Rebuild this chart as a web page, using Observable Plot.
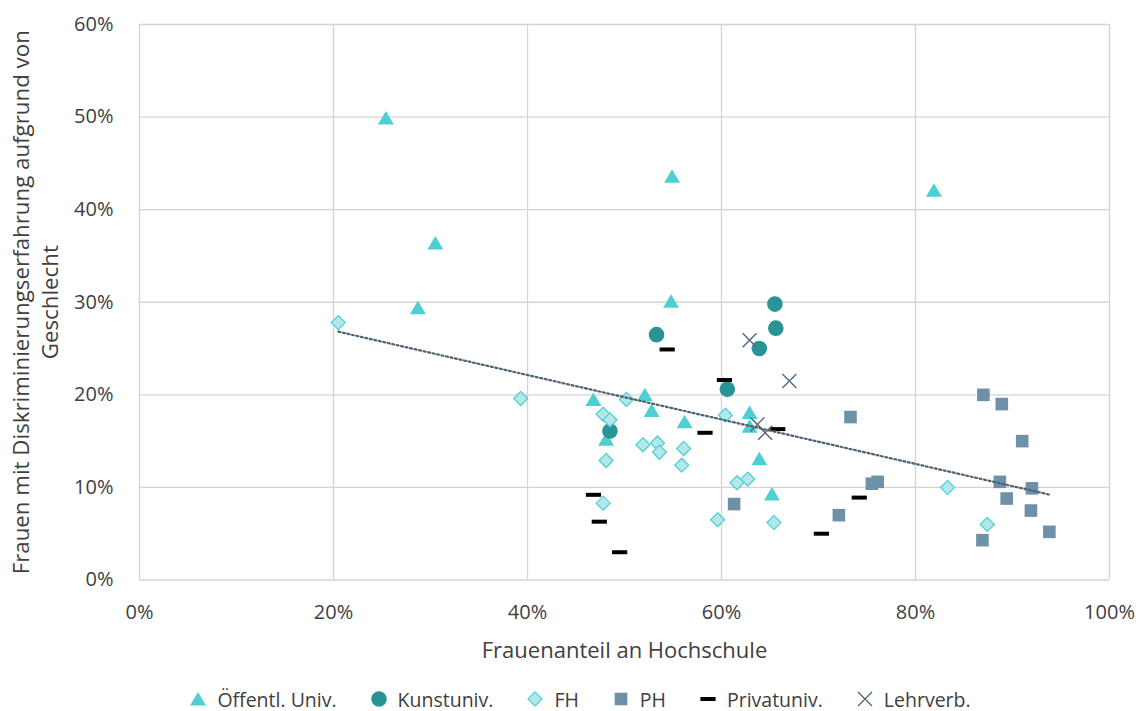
<!DOCTYPE html>
<html>
<head>
<meta charset="utf-8">
<script src="https://cdn.jsdelivr.net/npm/d3@7"></script>
<script src="https://cdn.jsdelivr.net/npm/@observablehq/plot@0.6"></script>
<style>
  html, body { margin: 0; padding: 0; background: #ffffff; }
  #wrap { width: 1146px; height: 711px; position: relative; font-family: "Open Sans", sans-serif; }
  #legend { display: flex; justify-content: center; align-items: center; height: 30px; margin-top: 9px;
            font-size: 19.5px; color: #404040; font-family: "Open Sans", sans-serif; padding-left: 14px; }
  .item { display: flex; align-items: center; margin: 0 16.5px; }
  .item svg { margin-right: 10px; overflow: visible; }
</style>
</head>
<body>
<div id="wrap"><div id="chart"></div><div id="legend"></div></div>
<script>
// ---- Data (percent values) ----
const seriesNames = ["Öffentl. Univ.", "Kunstuniv.", "FH", "PH", "Privatuniv.", "Lehrverb."];

const oeffX = [25.4, 30.5, 28.7, 54.9, 54.8, 81.9, 46.8, 48.1, 52.1, 52.8, 56.2, 62.9, 62.9, 63.9, 65.2];
const oeffY = [49.9, 36.4, 29.4, 43.6, 30.1, 42.1, 19.5, 15.2, 20.0, 18.3, 17.1, 18.1, 16.6, 13.1, 9.3];

const kunstX = [53.3, 65.5, 65.6, 63.9, 60.6, 48.5];
const kunstY = [26.5, 29.8, 27.2, 25.0, 20.6, 16.1];

const fhX = [20.5, 39.3, 50.2, 47.8, 48.5, 51.9, 53.4, 53.6, 56.1, 55.9, 48.1, 47.8, 60.4, 61.6, 62.7, 59.6, 65.4, 83.3, 87.4];
const fhY = [27.8, 19.6, 19.5, 17.9, 17.3, 14.6, 14.8, 13.8, 14.2, 12.4, 12.9, 8.3, 17.8, 10.5, 10.9, 6.5, 6.2, 10.0, 6.0];

const phX = [61.3, 72.1, 73.3, 75.5, 76.1, 86.9, 87.0, 88.7, 88.9, 89.4, 91.0, 92.0, 91.9, 93.8];
const phY = [8.2, 7.0, 17.6, 10.4, 10.6, 4.3, 20.0, 10.6, 19.0, 8.8, 15.0, 9.9, 7.5, 5.2];

const privX = [54.4, 60.3, 58.3, 65.8, 46.8, 47.4, 49.5, 70.3, 74.2];
const privY = [24.9, 21.6, 15.9, 16.3, 9.2, 6.3, 3.0, 5.0, 8.9];

const lehrX = [62.9, 67.0, 63.7, 64.5];
const lehrY = [25.9, 21.5, 16.8, 15.9];

const xTicks = [0, 20, 40, 60, 80, 100];
const yTicks = [0, 10, 20, 30, 40, 50, 60];
const xTitle = "Frauenanteil an Hochschule";
const yTitle = "Frauen mit Diskriminierungserfahrung aufgrund von\nGeschlecht";

// ---- Marker shapes ----
const symTri = {draw(c) { c.moveTo(0, -7); c.lineTo(8, 6.5); c.lineTo(-8, 6.5); c.closePath(); }};
const symCircle = {draw(c) { c.moveTo(7.8, 0); c.arc(0, 0, 7.8, 0, 2 * Math.PI); }};
const symDiamond = {draw(c) { c.moveTo(0, -7); c.lineTo(7, 0); c.lineTo(0, 7); c.lineTo(-7, 0); c.closePath(); }};
const symSquare = {draw(c) { c.rect(-6.3, -6.3, 12.6, 12.6); }};
const symDash = {draw(c) { c.rect(-7.6, -2, 15.2, 4); }};
const symX = {draw(c) { c.moveTo(-7, -7); c.lineTo(7, 7); c.moveTo(7, -7); c.lineTo(-7, 7); }};

const series = [
  {name: seriesNames[0], xs: oeffX, ys: oeffY, symbol: symTri, fill: "#4ECFD3", stroke: "none", sw: 0},
  {name: seriesNames[1], xs: kunstX, ys: kunstY, symbol: symCircle, fill: "#299496", stroke: "none", sw: 0},
  {name: seriesNames[2], xs: fhX, ys: fhY, symbol: symDiamond, fill: "#B3E8EA", stroke: "#55D0D5", sw: 1.3},
  {name: seriesNames[3], xs: phX, ys: phY, symbol: symSquare, fill: "#6E91A8", stroke: "none", sw: 0},
  {name: seriesNames[4], xs: privX, ys: privY, symbol: symDash, fill: "#000000", stroke: "none", sw: 0},
  {name: seriesNames[5], xs: lehrX, ys: lehrY, symbol: symX, fill: "none", stroke: "#52687A", sw: 1.4}
];

const rows = series.flatMap(s => s.xs.map((x, i) => ({group: s.name, x, y: s.ys[i]})));

const dotMarks = series.map(s =>
  Plot.dot(rows.filter(r => r.group === s.name), {
    x: "x", y: "y", symbol: s.symbol, r: 8,
    fill: s.fill, stroke: s.stroke, strokeWidth: s.sw
  })
);

const chart = Plot.plot({
  width: 1146,
  height: 675,
  marginLeft: 139,
  marginRight: 37,
  marginTop: 24,
  marginBottom: 95.5,
  style: {fontFamily: "Open Sans, sans-serif", fontSize: "20px", color: "#404040", background: "#ffffff", overflow: "visible"},
  x: {domain: [0, 100]},
  y: {domain: [0, 60]},
  marks: [
    Plot.gridX(xTicks, {stroke: "#d4d4d4", strokeOpacity: 1, strokeWidth: 1.3}),
    Plot.gridY(yTicks, {stroke: "#d4d4d4", strokeOpacity: 1, strokeWidth: 1.3}),
    Plot.axisX({ticks: xTicks, tickSize: 0, tickPadding: 25, tickFormat: d => d + "%", label: null, fill: "#404040", fontSize: 20}),
    Plot.axisY({ticks: yTicks, tickSize: 0, tickPadding: 26, tickFormat: d => d + "%", label: null, fill: "#404040", fontSize: 20}),
    ...dotMarks,
    Plot.linearRegressionY(rows, {x: "x", y: "y", ci: 0, stroke: "#4F6272", strokeWidth: 2.2, strokeDasharray: "2,2.6"}),
    Plot.text([xTitle], {frameAnchor: "bottom", lineAnchor: "middle", dy: 70.5, text: d => d, fontSize: 22, fill: "#404040"}),
    Plot.text([yTitle], {frameAnchor: "left", textAnchor: "middle", lineAnchor: "middle", rotate: -90, dx: -105, lineHeight: 1.3, text: d => d, fontSize: 22.3, fill: "#404040"})
  ]
});
document.getElementById("chart").appendChild(chart);

// ---- Legend ----
const legend = d3.select("#legend");
series.forEach(s => {
  const item = legend.append("div").attr("class", "item");
  const svg = item.append("svg").attr("width", 18).attr("height", 18).attr("viewBox", "-9 -9 18 18");
  const p = d3.path();
  s.symbol.draw(p);
  svg.append("path").attr("d", p.toString())
    .attr("fill", s.fill).attr("stroke", s.stroke).attr("stroke-width", s.sw);
  item.append("span").text(s.name);
});
</script>
</body>
</html>
